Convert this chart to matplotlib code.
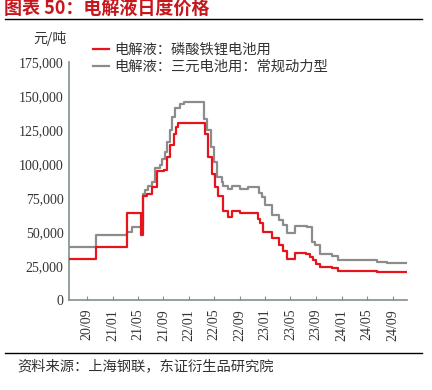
import pandas as pd
import matplotlib
matplotlib.use("Agg")
import matplotlib.pyplot as plt
import matplotlib.dates as mdates
from matplotlib.lines import Line2D
from matplotlib.ticker import FuncFormatter

plt.rcParams['font.family'] = ['Noto Sans CJK SC', 'DejaVu Sans']

# 电解液：磷酸铁锂电池用 (元/吨)
lfp_dates = ["2020-06-07", "2020-10-12", "2021-03-12", "2021-05-19", "2021-05-26",
             "2021-06-16", "2021-07-07", "2021-07-31", "2021-09-04", "2021-09-17",
             "2021-10-03", "2021-10-19", "2021-11-01", "2021-11-11", "2022-03-19",
             "2022-04-04", "2022-04-20", "2022-05-05", "2022-05-21", "2022-06-11",
             "2022-07-08", "2022-07-24", "2022-09-02", "2022-10-12", "2022-11-28",
             "2022-12-07", "2022-12-23", "2023-02-01", "2023-03-05", "2023-03-28",
             "2023-04-16", "2023-05-23", "2023-07-01", "2023-07-14", "2023-08-02",
             "2023-08-18", "2023-08-31", "2023-09-19", "2023-11-14", "2023-12-16",
             "2024-06-01", "2024-06-17", "2024-11-08"]
lfp_vals = [30500, 39500, 64500, 48000, 76500,
            78000, 83000, 95000, 96000, 105000,
            114000, 122500, 127000, 130500, 122500,
            105000, 93000, 83500, 76500, 66000,
            61500, 66000, 64000, 64500, 60000,
            56500, 50500, 45500, 40500, 36000,
            30500, 35000, 35000, 34000, 32000,
            29500, 27000, 24500, 23500, 22000,
            21500, 21000, 21000]

# 电解液：三元电池用：常规动力型 (元/吨)
ncm_dates = ["2020-06-07", "2020-10-12", "2021-03-09", "2021-04-02", "2021-05-26",
             "2021-06-05", "2021-06-21", "2021-07-07", "2021-07-23", "2021-08-16",
             "2021-08-24", "2021-09-09", "2021-09-20", "2021-10-03", "2021-10-14",
             "2021-10-27", "2021-11-20", "2021-12-06", "2022-03-14", "2022-03-30",
             "2022-04-15", "2022-05-01", "2022-05-16", "2022-06-06", "2022-06-14",
             "2022-07-08", "2022-07-24", "2022-09-02", "2022-10-12", "2022-12-03",
             "2022-12-15", "2022-12-31", "2023-02-01", "2023-03-05", "2023-03-28",
             "2023-04-16", "2023-05-23", "2023-07-18", "2023-08-11", "2023-08-27",
             "2023-09-19", "2023-11-14", "2023-12-16", "2024-06-17", "2024-08-04",
             "2024-11-08"]
ncm_vals = [39000, 48000, 50500, 53700, 78000,
            81000, 84000, 87000, 97000, 99500,
            104000, 109000, 116000, 125000, 134500,
            141000, 144500, 145500, 133500, 125000,
            112500, 101500, 90500, 87000, 84000,
            81500, 84000, 82000, 83500, 79000,
            76000, 70000, 62500, 59000, 55500,
            49500, 54500, 54000, 43000, 40500,
            34000, 32500, 29700, 28500, 27300,
            27300]

labels = ["电解液：磷酸铁锂电池用", "电解液：三元电池用：常规动力型"]
colors = ["#e8141b", "#8c8c8c"]

fig = plt.figure(figsize=(4.32, 3.90), dpi=100)
ax = fig.add_axes([0.160, 0.2295, 0.782, 0.6115])

ax.plot(pd.to_datetime(lfp_dates), lfp_vals, drawstyle="steps-post", color=colors[0], lw=1.6, label=labels[0], zorder=3)
ax.plot(pd.to_datetime(ncm_dates), ncm_vals, drawstyle="steps-post", color=colors[1], lw=1.6, label=labels[1], zorder=2)

ax.set_xlim(pd.Timestamp("2020-06-07"), pd.Timestamp("2024-11-08"))
ax.set_ylim(0, 175000)
ax.set_yticks(range(0, 175001, 25000))
ax.yaxis.set_major_formatter(FuncFormatter(lambda v, p: f"{int(v):,}"))
ax.xaxis.set_major_locator(mdates.MonthLocator(bymonth=[1, 5, 9]))
ax.xaxis.set_major_formatter(mdates.DateFormatter("%y/%m"))

spine_c = "#7f9090"
for s in ["top", "right"]:
    ax.spines[s].set_visible(False)
for s in ["left", "bottom"]:
    ax.spines[s].set_color(spine_c)
    ax.spines[s].set_linewidth(1.2)
ax.tick_params(axis="x", direction="in", length=3, color=spine_c, labelrotation=90, pad=6)
ax.tick_params(axis="y", length=0, pad=4)
for t in ax.get_xticklabels() + ax.get_yticklabels():
    t.set_family("Liberation Serif")
    t.set_fontsize(10)
    t.set_color("#333333")

ax.legend(loc="upper left", bbox_to_anchor=(93 / 432, 1 - 43 / 390), bbox_transform=fig.transFigure,
          frameon=False, fontsize=10.3, handlelength=1.1, handletextpad=0.4,
          borderpad=0, borderaxespad=0, labelspacing=0.2, labelcolor="#333333")

fig.text(33 / 432, 1 - 38 / 390, "元/吨", fontsize=10, color="#333333", va="center", ha="left")

fig.text(4 / 432, 1 - 9 / 390, "图表 50：电解液日度价格", fontsize=13, fontweight="bold",
         color="#c8161d", va="center", ha="left")
fig.add_artist(Line2D([5 / 432, 422 / 432], [1 - 19 / 390, 1 - 19 / 390], color="black", lw=1.0))
fig.add_artist(Line2D([5 / 432, 422 / 432], [1 - 353 / 390, 1 - 353 / 390], color="black", lw=1.0))
fig.text(17 / 432, 1 - 366 / 390, "资料来源：上海钢联，东证衍生品研究院", fontsize=10.3, color="#333333",
         va="center", ha="left")

fig.savefig("out.png", dpi=100)
